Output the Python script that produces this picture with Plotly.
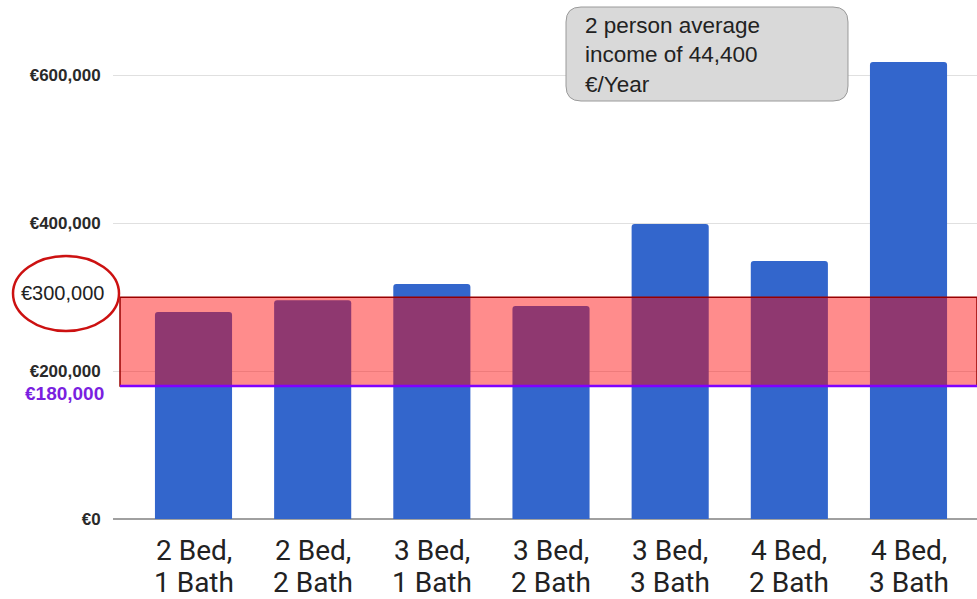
import plotly.graph_objects as go

# Home types and their price levels (EUR)
beds = ["2 Bed,", "2 Bed,", "3 Bed,", "3 Bed,", "3 Bed,", "4 Bed,", "4 Bed,"]
baths = ["1 Bath", "2 Bath", "1 Bath", "2 Bath", "3 Bath", "2 Bath", "3 Bath"]
prices = [280000, 296000, 318000, 288000, 399000, 349000, 618000]

# Affordability band and axis ticks
band_low = 180000
band_high = 300000
tick_vals = [0, 200000, 400000, 600000]
tick_text = ["€0", "€200,000", "€400,000", "€600,000"]
note_lines = ["2 person average", "income of 44,400", "€/Year"]

W, H = 977, 599
ML, MR, MT, MB = 113, 0, 0, 80
PW, PH = W - ML - MR, H - MT - MB


def px(x):
    return (x - ML) / PW


def py(y):
    return (H - MB - y) / PH


cats = list(range(len(prices)))

fig = go.Figure()
fig.add_trace(go.Bar(
    x=cats, y=prices,
    marker=dict(color="#3366CC", line=dict(width=0)),
    hoverinfo="skip",
))

shapes = []
# shaded affordability band
shapes.append(dict(
    type="rect", xref="paper", yref="y",
    x0=px(120), x1=1.0, y0=band_low, y1=band_high,
    fillcolor="rgba(255,0,0,0.45)",
    line=dict(color="#990000", width=1.5),
    layer="above",
))
# lower bound line
shapes.append(dict(
    type="line", xref="paper", yref="y",
    x0=px(120), x1=1.0, y0=band_low, y1=band_low,
    line=dict(color="#8000FF", width=2.5),
    layer="above",
))
# circle around the upper bound label
shapes.append(dict(
    type="circle", xref="paper", yref="paper",
    x0=px(13), x1=px(119), y0=py(331), y1=py(256),
    line=dict(color="#CC1111", width=2.5),
    fillcolor="rgba(0,0,0,0)",
))

# rounded callout box
bx0, bx1, by0, by1, r = 566, 848, 7, 101, 15
pts = [
    ("M", bx0 + r, by0), ("L", bx1 - r, by0), ("Q", bx1, by0, bx1, by0 + r),
    ("L", bx1, by1 - r), ("Q", bx1, by1, bx1 - r, by1), ("L", bx0 + r, by1),
    ("Q", bx0, by1, bx0, by1 - r), ("L", bx0, by0 + r), ("Q", bx0, by0, bx0 + r, by0),
]
path = ""
for p in pts:
    cmd = p[0]
    coords = p[1:]
    parts = []
    for i in range(0, len(coords), 2):
        parts.append(f"{px(coords[i]):.5f},{py(coords[i + 1]):.5f}")
    path += cmd + " " + " ".join(parts) + " "
path += "Z"
shapes.append(dict(
    type="path", xref="paper", yref="paper", path=path,
    fillcolor="#D9D9D9", line=dict(color="#9A9A9A", width=1),
    layer="above",
))

annotations = []
label_font = dict(family="Roboto", size=28, color="#222222")
for i, (b, t) in enumerate(zip(beds, baths)):
    annotations.append(dict(
        x=i, y=py(549.5), xref="x", yref="paper", text=b, showarrow=False,
        xanchor="center", yanchor="middle", height=30, valign="middle",
        font=label_font,
    ))
    annotations.append(dict(
        x=i, y=py(582), xref="x", yref="paper", text=t, showarrow=False,
        xanchor="center", yanchor="middle", height=30, valign="middle",
        font=label_font,
    ))

annotations.append(dict(
    x=px(106), y=band_high, xref="paper", yref="y",
    text=f"€{band_high:,}", showarrow=False, xanchor="right", yanchor="middle",
    yshift=4, font=dict(family="Arial", size=20, color="#222222"),
))
annotations.append(dict(
    x=px(106), y=band_low, xref="paper", yref="y",
    text=f"€{band_low:,}", showarrow=False, xanchor="right", yanchor="middle",
    yshift=-8, font=dict(family="Arial", size=19, color="#7A1FE0", weight="bold"),
))
annotations.append(dict(
    x=px(583), y=py(55), xref="paper", yref="paper",
    text="<br>".join(note_lines), showarrow=False, xanchor="left", yanchor="middle",
    align="left", font=dict(family="Arial", size=22.5, color="#222222"),
))

fig.update_layout(
    width=W, height=H,
    margin=dict(l=ML, r=MR, t=MT, b=MB),
    paper_bgcolor="white", plot_bgcolor="white",
    showlegend=False,
    bargap=0.353,
    barcornerradius=3,
    shapes=shapes,
    annotations=annotations,
    xaxis=dict(
        range=[-0.6755, 6.5747], showticklabels=False, showgrid=False,
        zeroline=False, showline=False, ticks="",
    ),
    yaxis=dict(
        range=[0, 702000], tickvals=tick_vals, ticktext=tick_text,
        tickfont=dict(family="Arial", size=17, color="#2A2A2A", weight="bold"),
        showgrid=True, gridcolor="#E0E0E0", gridwidth=1,
        zeroline=True, zerolinecolor="#A0A0A0", zerolinewidth=2,
        ticks="outside", ticklen=8, tickcolor="rgba(0,0,0,0)",
        showline=False,
    ),
)

fig.write_html("out.html")
